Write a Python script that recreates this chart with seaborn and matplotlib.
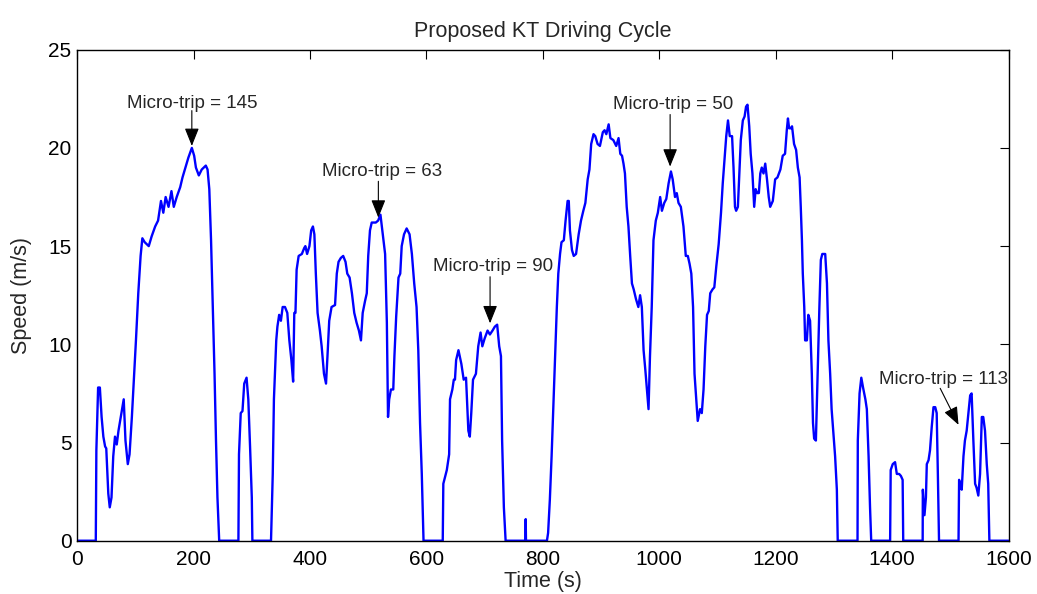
import numpy as np
import seaborn as sns
import matplotlib
matplotlib.use('Agg')
from matplotlib import pyplot as plt
import pandas as pd

# (time s, speed m/s)
trace = [
    (0, 0), (32, 0), (33, 4.6), (36, 7.8), (39, 7.8), (42, 6.3), (45, 5.3), (48, 4.8), (50, 4.7),
    (53.5, 2.4), (56, 1.7), (59, 2.2), (62, 4.3), (65, 5.3), (68, 4.9), (71, 5.6), (75, 6.3),
    (80, 7.2), (83, 5.1), (87, 3.9), (90, 4.4), (94, 6.3), (98, 8.5), (101, 10.2), (105, 12.6),
    (109, 14.5), (112, 15.4), (116, 15.2), (123, 15.0), (128, 15.5), (134, 16.0), (139, 16.3),
    (144, 17.3), (148, 16.7), (152, 17.5), (157, 17.0), (162, 17.8), (166, 17.0), (171, 17.5),
    (177, 18.0), (181, 18.5), (185, 18.9), (191, 19.5), (197, 20.0), (201, 19.6), (204, 19.0),
    (209, 18.6), (214, 18.9), (221, 19.1), (224, 18.9), (227, 17.9), (230, 15.3), (233, 11.9),
    (236, 8.5), (238.5, 5.1), (241, 2.2), (244, 0),
    (277, 0), (278, 4.4), (281, 6.5), (284, 6.6), (287, 8.0), (291, 8.3), (294, 7.2), (297, 4.8),
    (300, 2.2), (301, 0),
    (333, 0), (336, 3.4), (338, 7.2), (342, 10.2), (344, 10.9), (347, 11.5), (350, 11.2),
    (353, 11.9), (357, 11.9), (361, 11.6), (364.5, 10.2), (368, 9.2), (371, 8.1), (373, 11.6),
    (375, 11.6), (377, 13.8), (380.5, 14.5), (386, 14.6), (390, 14.9), (392, 15.0), (395, 14.6),
    (399, 15.0), (402, 15.8), (405, 16.0), (407.5, 15.6), (410, 13.6), (413, 11.6), (417, 10.7),
    (420, 9.9), (424, 8.5), (427.5, 8.0), (430, 9.4), (433, 11.2), (437, 11.9), (443, 12.0),
    (446, 13.6), (449, 14.2), (453, 14.4), (457, 14.5), (461, 14.2), (464, 13.6), (468, 13.4),
    (472, 12.6), (476, 11.6), (480, 11.1), (484, 10.7), (487.5, 10.2), (490.5, 11.6),
    (494.5, 12.2), (497.5, 12.6), (500, 14.5), (503, 15.8), (506, 16.2), (510, 16.2),
    (513, 16.2), (517, 16.3), (521, 16.6), (525, 15.6), (529, 14.6), (532, 11.1), (534, 6.3),
    (536, 7.2), (539, 7.7), (543, 7.7), (545, 9.4), (548, 11.4), (552, 13.4), (555, 13.6),
    (557.5, 15.0), (561.5, 15.6), (566, 15.9), (571, 15.6), (575, 14.6), (579, 13.1),
    (583, 11.9), (586, 9.7), (589, 6.0), (592, 3.4), (595, 0),
    (628, 0), (629, 2.9), (635, 3.6), (639, 4.4), (640.5, 7.2), (644.5, 7.7), (647, 8.2),
    (649, 8.2), (651, 9.2), (655, 9.7), (660, 9.0), (664, 8.2), (668, 8.3), (672, 5.6),
    (674.5, 5.3), (677, 6.5), (680, 8.2), (685, 8.5), (689, 9.9), (693, 10.6), (696, 9.9),
    (700, 10.3), (705, 10.7), (709, 10.5), (713.5, 10.7), (717.5, 10.9), (721.5, 11.0),
    (725, 9.9), (728, 9.4), (730, 5.1), (733, 1.7), (736, 0),
    (770, 0), (770.5, 1.1), (771, 0),
    (807, 0), (809, 0.4), (812, 2.1), (815, 4.3), (818, 6.8), (821, 9.4), (824, 11.9),
    (826.5, 13.6), (829.5, 14.6), (832, 15.2), (836, 15.3), (839, 16.3), (842.5, 17.3),
    (844.5, 17.3), (846.5, 15.8), (850, 14.8), (853, 14.5), (857, 14.6), (861.5, 15.6),
    (865.5, 16.3), (869.5, 16.8), (873, 17.2), (877, 18.4), (880, 18.9), (883, 20.2),
    (887, 20.7), (890, 20.6), (894, 20.2), (898, 20.1), (903, 20.8), (906, 20.9), (909, 20.7),
    (913, 21.2), (916, 20.5), (921, 20.4), (926, 20.1), (930, 20.5), (933, 19.7), (936, 19.6),
    (938.5, 19.2), (941, 18.7), (944, 17.0), (947, 16.0), (950, 14.5), (953, 13.1), (956, 12.8),
    (960, 12.3), (964, 11.9), (967, 12.5), (970, 11.9), (973, 9.7), (976, 8.7), (978.5, 7.8),
    (981.5, 6.7), (984, 9.4), (987, 11.9), (990, 15.3), (994, 16.3), (997.5, 16.7),
    (1001.5, 17.5), (1004.5, 16.8), (1008.5, 17.2), (1012, 17.4), (1016, 18.2), (1020, 18.8),
    (1023, 18.4), (1027, 17.5), (1030, 17.7), (1033, 17.2), (1037, 17.0), (1041.5, 16.0),
    (1045.5, 14.5), (1049, 14.5), (1052, 14.1), (1055, 13.6), (1058, 11.9), (1060.5, 8.5),
    (1063.5, 7.2), (1066, 6.1), (1070, 6.7), (1073, 6.5), (1076, 7.7), (1079, 9.9),
    (1082, 11.5), (1085, 11.7), (1087.5, 12.6), (1091.5, 12.8), (1094.5, 12.9), (1098, 14.0),
    (1102, 15.1), (1106, 16.7), (1109, 18.2), (1112, 19.4), (1115, 20.6), (1118, 21.4),
    (1121, 20.6), (1125, 20.6), (1127.5, 19.0), (1130, 17.0), (1132, 16.8), (1135, 17.0),
    (1137.5, 18.7), (1140, 20.4), (1143.5, 21.4), (1146.5, 21.6), (1149, 22.1), (1151.5, 22.2),
    (1154.5, 21.1), (1157, 19.7), (1160, 18.7), (1163, 17.0), (1165.5, 17.9), (1168, 17.7),
    (1171, 17.7), (1173.5, 18.7), (1176, 19.0), (1179, 18.7), (1182, 19.2), (1185, 18.4),
    (1188, 17.5), (1190.5, 17.0), (1195, 17.3), (1199, 18.4), (1203, 18.5), (1208, 18.9),
    (1212, 19.6), (1216, 19.7), (1219, 20.9), (1221, 21.5), (1223, 21.0), (1226, 21.0),
    (1228, 21.1), (1231.5, 20.2), (1235, 19.9), (1238, 19.0), (1241, 18.5), (1243, 17.0),
    (1245, 15.3), (1246.5, 13.6), (1249, 11.9), (1250.5, 10.2), (1253.5, 10.2), (1256, 11.5),
    (1259, 11.2), (1262, 8.5), (1264, 6.0), (1266, 5.2), (1269, 5.1), (1272, 8.5),
    (1275, 11.9), (1277.5, 14.3), (1280, 14.6), (1285, 14.6), (1288, 13.1), (1290.5, 10.2),
    (1293.5, 8.5), (1296, 6.7), (1299, 5.5), (1302, 4.3), (1305, 2.6), (1306.5, 0),
    (1340.5, 0), (1341, 5.1), (1344, 7.5), (1347, 8.3), (1350, 7.8), (1354, 7.2),
    (1356.5, 6.7), (1359.5, 4.3), (1362, 1.7), (1364, 0),
    (1396.5, 0), (1397.5, 3.6), (1401, 3.9), (1405, 4.0), (1408, 3.4), (1412, 3.4),
    (1415, 3.3), (1418, 3.1), (1419, 0),
    (1452.4, 0), (1452.7, 2.6), (1455.5, 1.3), (1458, 2.2), (1459.5, 3.9), (1462.5, 4.1),
    (1465, 4.6), (1468, 5.8), (1471, 6.8), (1474, 6.8), (1476.5, 6.5), (1478.5, 3.4),
    (1480.5, 0),
    (1514, 0), (1515, 3.1), (1516.5, 2.9), (1519.5, 2.6), (1522.5, 4.3), (1525, 5.1),
    (1528, 5.6), (1531, 6.5), (1534, 7.4), (1536.5, 7.5), (1539.5, 5.1), (1542.5, 2.9),
    (1545, 2.7), (1548, 2.3), (1551, 3.4), (1554, 6.3), (1556.5, 6.3), (1559.5, 5.6),
    (1562.5, 3.9), (1565, 2.9), (1567, 0), (1600, 0),
]

# micro-trip labels: text, label position, arrow tail, arrow tip
trip_labels = ['Micro-trip = 145', 'Micro-trip = 63', 'Micro-trip = 90',
               'Micro-trip = 50', 'Micro-trip = 113']
label_xy = [(197, 22.27), (524, 18.8), (714, 13.95), (1023, 22.2), (1489, 8.22)]
arrow_tail = [(197, 21.9), (517.4, 18.3), (709.3, 13.44), (1018.6, 21.7), (1482.5, 7.76)]
arrow_tip = [(197, 20.1), (517.4, 16.45), (709.3, 11.07), (1018.6, 19.05), (1514, 5.9)]

sns.set_style('white')
plt.rcParams['font.family'] = ['Liberation Sans', 'DejaVu Sans']

df = pd.DataFrame(trace, columns=['Time (s)', 'Speed (m/s)'])

fig = plt.figure(figsize=(10.37, 5.94), dpi=100)
ax = fig.add_axes([0.0744, 0.0897, 0.8982, 0.8266])

sns.lineplot(data=df, x='Time (s)', y='Speed (m/s)', ax=ax, color='#0000ff',
             lw=1.7, estimator=None, sort=False)

for txt, pos, tail, tip in zip(trip_labels, label_xy, arrow_tail, arrow_tip):
    ax.text(pos[0], pos[1], txt, ha='center', va='center', fontsize=13.5)
    ax.annotate('', xy=tip, xytext=tail,
                arrowprops=dict(arrowstyle='-|>,head_length=0.55,head_width=0.22',
                                color='k', lw=0.8, mutation_scale=20,
                                shrinkA=0, shrinkB=0))

ax.set_xlim(0, 1600)
ax.set_ylim(0, 25)
ax.set_xticks(np.arange(0, 1601, 200))
ax.set_yticks(np.arange(0, 26, 5))
ax.tick_params(direction='in', length=6.5, width=0.8, top=True, right=True,
               labelsize=15, colors='k')
ax.tick_params(axis='x', pad=7)
ax.tick_params(axis='y', pad=4)
for sp in ax.spines.values():
    sp.set_color('k')
    sp.set_linewidth(1.0)

ax.set_xlabel('Time (s)', fontsize=15.5, labelpad=1)
ax.set_ylabel('Speed (m/s)', fontsize=15.5, labelpad=12)
ax.set_title('Proposed KT Driving Cycle', fontsize=15.5, pad=9)

plt.savefig('out.png', dpi=100)
